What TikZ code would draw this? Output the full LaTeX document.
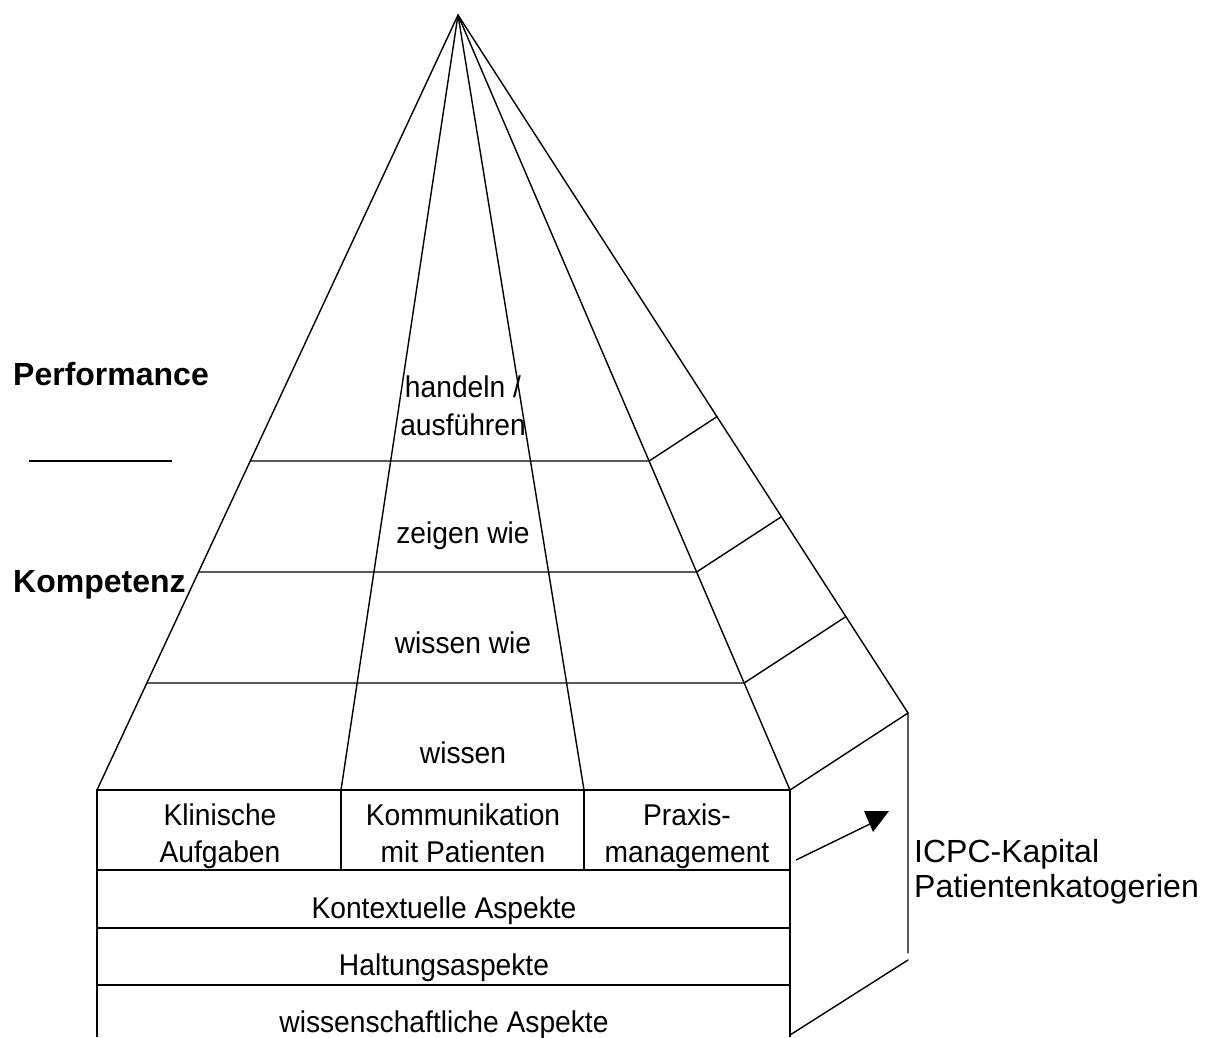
\documentclass[tikz,border=0pt]{standalone}
\usepackage{fontspec}
\setmainfont{Liberation Sans}
\newfontfamily\condfont[FakeStretch=0.94]{Liberation Sans}
\begin{document}
\begin{tikzpicture}[x=1pt,y=-1pt,
  pyrline/.style={line width=1.4pt, line join=round, line cap=round},
  boxline/.style={line width=2.6pt},
  lbl/.style={inner sep=0pt, anchor=base, font=\condfont\fontsize{30}{34}\selectfont},
  sidelbl/.style={inner sep=0pt, anchor=base west, font=\fontsize{32}{36}\selectfont},
  lvl/.style={inner sep=0pt, anchor=base west, font=\bfseries\fontsize{32}{36}\selectfont}]
\useasboundingbox (0,0) rectangle (1212,1037);
% key points
\coordinate (apex) at (458,15);
\coordinate (bl) at (97,790);
\coordinate (bm1) at (341,790);
\coordinate (bm2) at (584,790);
\coordinate (br) at (790,790);
\coordinate (rt) at (908,713);
\coordinate (rv) at (908,953);
\coordinate (rb) at (908,960);
\coordinate (blb) at (97,1037);
\coordinate (brb) at (790,1035);
\coordinate (brb2) at (790,1037);
% front levels
\coordinate (h1l) at (250.3,461); \coordinate (h1r) at (649.1,461); \coordinate (s1) at (716.9,416.7);
\coordinate (h2l) at (198.6,572); \coordinate (h2r) at (696.6,572); \coordinate (s2) at (781.4,516.7);
\coordinate (h3l) at (146.9,683); \coordinate (h3r) at (744.2,683); \coordinate (s3) at (845.9,616.6);
% pyramid
\draw[pyrline] (bl) -- (apex) -- (br);
\draw[pyrline] (apex) -- (bm1);
\draw[pyrline] (apex) -- (bm2);
\draw[pyrline] (apex) -- (rt);
\draw[pyrline] (h1l) -- (h1r) -- (s1);
\draw[pyrline] (h2l) -- (h2r) -- (s2);
\draw[pyrline] (h3l) -- (h3r) -- (s3);
\draw[pyrline] (br) -- (rt) -- (rv);
\draw[pyrline] (brb) -- (rb);
% left marker line
\coordinate (ml) at (29,461); \coordinate (mr) at (172,461);
\draw[line width=1.4pt] (ml) -- (mr);
% box
\draw[boxline] (blb) -- (bl) -- (br) -- (brb2);
\draw[boxline] (97,870) -- (790,870);
\draw[boxline] (97,928) -- (790,928);
\draw[boxline] (97,985) -- (790,985);
\draw[boxline] (bm1) -- (341,870);
\draw[boxline] (bm2) -- (584,870);
% arrow
\coordinate (a0) at (796,860);
\coordinate (a1) at (872,823);
\draw[line width=1.4pt] (a0) -- (a1);
\fill (864,811) -- (889,811) -- (873,832) -- cycle;
% pyramid labels
\node[lbl] (t1) at (463,397) {handeln /};
\node[lbl] (t2) at (463,435) {ausführen};
\node[lbl] (t3) at (463,543) {zeigen wie};
\node[lbl] (t4) at (463,653) {wissen wie};
\node[lbl] (t5) at (463,763) {wissen};
% box labels
\node[lbl] (k1) at (220,825) {Klinische};
\node[lbl] (k2) at (220,862) {Aufgaben};
\node[lbl] (c1) at (463,825) {Kommunikation};
\node[lbl] (c2) at (463,862) {mit Patienten};
\node[lbl] (p1) at (687,825) {Praxis-};
\node[lbl] (p2) at (687,862) {management};
\node[lbl] (r1) at (444,918) {Kontextuelle Aspekte};
\node[lbl] (r2) at (444,975) {Haltungsaspekte};
\node[lbl] (r3) at (444,1032) {wissenschaftliche Aspekte};
% side labels
\node[lvl] (perf) at (13,385) {Performance};
\node[lvl] (komp) at (13,592) {Kompetenz};
\node[sidelbl] (i1) at (914,862) {ICPC-Kapital};
\node[sidelbl] (i2) at (914,897) {Patientenkatogerien};
\end{tikzpicture}
\end{document}
